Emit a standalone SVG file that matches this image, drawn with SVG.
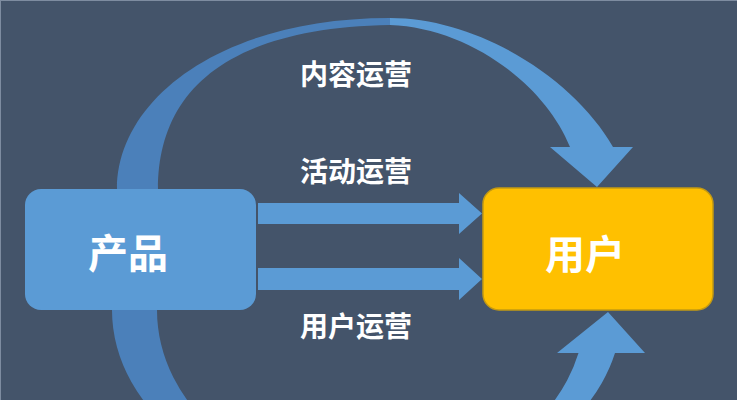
<svg xmlns="http://www.w3.org/2000/svg" width="737" height="400" viewBox="0 0 737 400">
  <style>
    .lbl { font-family: "Noto Sans CJK SC", "Noto Sans", sans-serif; font-weight: 700; fill: #ffffff; text-anchor: middle; dominant-baseline: central; }
    .op { font-size: 28px; }
    .node { font-size: 40px; }
    .back { fill: #4b80ba; }
    .front { fill: #5b9bd5; }
  </style>
  <rect x="0" y="0" width="737" height="400" fill="#44546a"/>
  <path d="M0,0.5 H737 M0.5,0 V400" stroke="#7e8ca0" stroke-width="1" fill="none"/>

  <g id="connectors">
    <!-- top curved arrow: product -> user (内容运营) -->
    <path class="back" d="M117,200 L117,189 C117,100 220,18 390,18 L390,25 C215,28 158,100 158,189 L158,200 Z"/>
    <path class="front" d="M390,18 C480,18 575,80 613,147 L633,147 L597,187 L550,147 L570,147 C545,85 470,28 390,25 Z"/>
    <!-- bottom curved arrow: product -> user (用户运营) -->
    <path class="back" d="M112,300 L112,310 A255,188 0 0 0 367,498 L371,486 A214,176 0 0 1 157,310 L157,300 Z"/>
    <path class="front" d="M615,353 L645,353 L608,312 L557,353 L578.5,353 A214,176 0 0 1 371,486 L367,498 A255,188 0 0 0 615,353 Z"/>
    <!-- straight arrows -->
    <path class="front" d="M258,203 L459,203 L459,193 L482,213.5 L459,234 L459,224 L258,224 Z"/>
    <path class="front" d="M258,268 L459,268 L459,258 L482,279 L459,300 L459,290 L258,290 Z"/>
  </g>

  <g id="node-product">
    <rect x="25" y="189" width="231" height="121" rx="16" ry="16" fill="#5b9bd5"/>
    <text class="lbl node" x="128" y="251">产品</text>
  </g>

  <g id="node-user">
    <rect x="483" y="188" width="230" height="122" rx="16" ry="16" fill="#ffc000" stroke="#c49a12" stroke-width="1.5"/>
    <text class="lbl node" x="585" y="252">用户</text>
  </g>

  <g id="labels">
    <text class="lbl op" x="356" y="73">内容运营</text>
    <text class="lbl op" x="356" y="169.5">活动运营</text>
    <text class="lbl op" x="356" y="324.5">用户运营</text>
  </g>
</svg>
